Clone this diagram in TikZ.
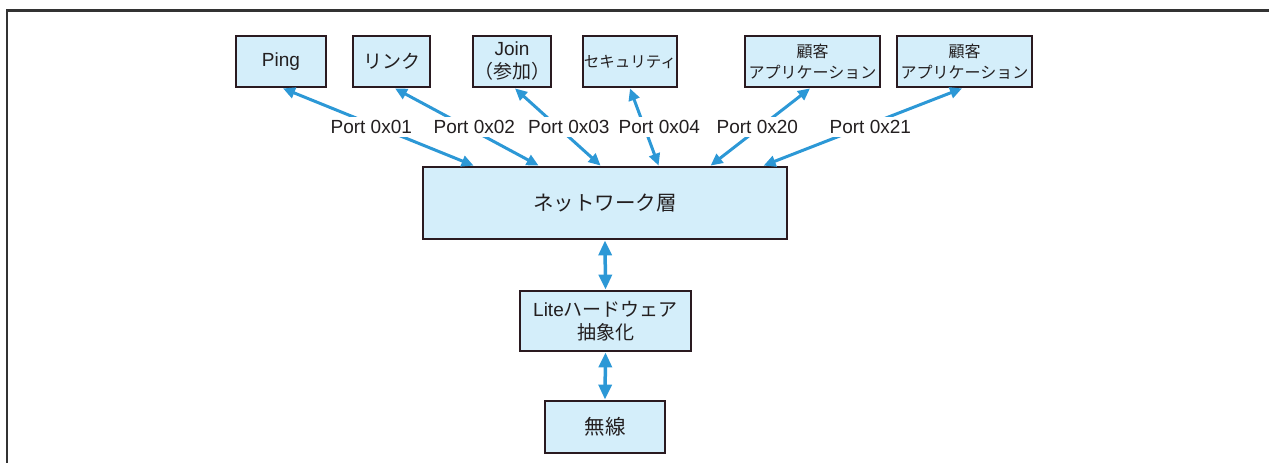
\documentclass[tikz,border=0pt]{standalone}
\usepackage{fontspec}
\setmainfont{Liberation Sans}
\newfontfamily\jp{Noto Sans CJK JP}
\usetikzlibrary{arrows.meta}
\definecolor{arrowblue}{HTML}{2C98D6}
\definecolor{boxfill}{HTML}{D4EEFA}
\definecolor{boxline}{HTML}{2A1A20}
\definecolor{txt}{HTML}{231F20}
\definecolor{frame}{HTML}{333333}
\tikzset{
  box/.style={draw=boxline, fill=boxfill, line width=2.8pt, inner sep=0pt,
    align=center, text=txt, font=\fontsize{19}{23}\selectfont},
  conn/.style={draw=arrowblue, line width=3pt,
    {Triangle[length=12pt,width=11pt]}-{Triangle[length=12pt,width=11pt]}},
  vconn/.style={draw=arrowblue, line width=3.5pt,
    {Triangle[length=15pt,width=13pt]}-{Triangle[length=15pt,width=13pt]}},
  lbl/.style={fill=white, text=txt, inner sep=3pt, font=\fontsize{19}{23}\selectfont}
}
\begin{document}
\begin{tikzpicture}[x=1pt,y=-1pt]
\useasboundingbox (0,0) rectangle (1269,463);
% frame
\draw[frame, line width=2.5pt] (1269,10.5) -- (7,10.5) -- (7,463);
% top boxes
\node[box, minimum width=90pt, minimum height=51pt] (ping) at (281,61.5) {Ping};
\node[box, minimum width=77pt, minimum height=51pt] (link) at (391.5,61.5) {\jp リンク};
\node[box, minimum width=78pt, minimum height=51pt, font=\fontsize{19}{24}\selectfont] (join) at (512,61.5) {Join\\[-1pt]{\jp （参加）}};
\node[box, minimum width=94pt, minimum height=51pt, font=\fontsize{15.5}{20}\selectfont] (sec) at (630,61.5) {\jp セキュリティ};
\node[box, minimum width=135pt, minimum height=51pt, font=\fontsize{16}{20.5}\selectfont] (app1) at (812.5,61.5) {\jp 顧客\\\jp アプリケーション};
\node[box, minimum width=135pt, minimum height=51pt, font=\fontsize{16}{20.5}\selectfont] (app2) at (964.5,61.5) {\jp 顧客\\\jp アプリケーション};
% lower boxes
\node[box, minimum width=364pt, minimum height=72pt, font=\fontsize{20.5}{24}\selectfont] (net) at (605,203) {\jp ネットワーク層};
\node[box, minimum width=171pt, minimum height=60pt] (lite) at (605.5,321) {Lite{\jp ハードウェア}\\{\jp 抽象化}};
\node[box, minimum width=120pt, minimum height=52pt, font=\fontsize{20.5}{24}\selectfont] (radio) at (605,427) {\jp 無線};
% port connectors
\draw[conn] ([xshift=2pt]ping.south) -- node[lbl, xshift=-7pt] {Port 0x01} ([xshift=52pt]net.north west);
\draw[conn] ([xshift=3.5pt]link.south) -- node[lbl, xshift=7.5pt] {Port 0x02} ([xshift=117pt]net.north west);
\draw[conn] ([xshift=3pt]join.south) -- node[lbl, xshift=11pt] {Port 0x03} ([xshift=179pt]net.north west);
\draw[conn] (sec.south) -- node[lbl, xshift=15pt] {Port 0x04} ([xshift=237pt]net.north west);
\draw[conn] ([xshift=-2.5pt]app1.south) -- node[lbl, xshift=-3pt] {Port 0x20} ([xshift=289pt]net.north west);
\draw[conn] ([xshift=-2.5pt]app2.south) -- node[lbl, xshift=7.5pt] {Port 0x21} ([xshift=342pt]net.north west);
% vertical connectors
\draw[vconn] (net.south) -- (lite.north);
\draw[vconn] (lite.south) -- (radio.north);
\end{tikzpicture}
\end{document}
